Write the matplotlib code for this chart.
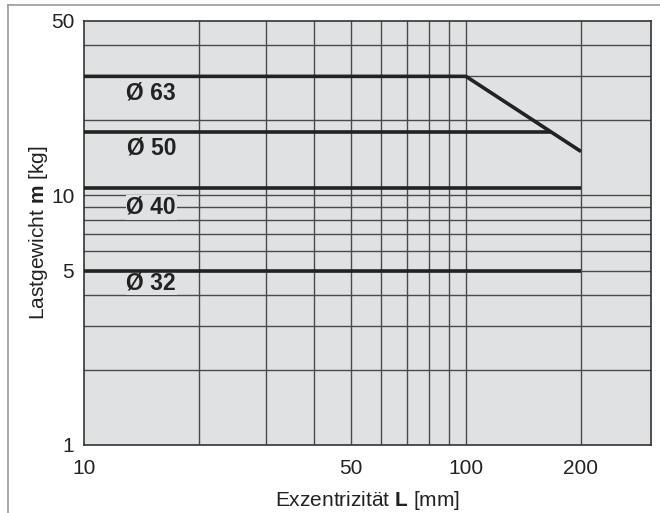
import matplotlib
matplotlib.use("Agg")
import matplotlib.pyplot as plt
from matplotlib.lines import Line2D

plt.rcParams['font.family'] = ['Liberation Sans', 'DejaVu Sans']
plt.rcParams['mathtext.fontset'] = 'custom'
plt.rcParams['mathtext.rm'] = 'Liberation Sans'
plt.rcParams['mathtext.bf'] = 'Liberation Sans:bold'

# load limits per bore size (eccentricity L [mm] -> load m [kg])
sizes = ["Ø 63", "Ø 50", "Ø 40", "Ø 32"]
curve_L = [[10, 100, 200], [10, 166.7], [10, 200], [10, 200]]
curve_m = [[30, 30, 15], [18, 18], [10.7, 10.7], [5, 5]]
label_L = [15, 15, 15, 15]
label_m = [25.8, 15.5, 8.95, 4.45]

x_grid = [20, 30, 40, 50, 60, 70, 80, 90, 100, 200]
y_grid = [2, 3, 4, 5, 6, 7, 8, 9, 10, 20, 30, 40]
x_ticks = [10, 50, 100, 200]
y_ticks = [1, 5, 10, 50]

bg = '#e0e1e3'

fig = plt.figure(figsize=(6.6, 5.13), dpi=100)
ax = fig.add_axes([84 / 660, 1 - 445 / 513, (651 - 84) / 660, (445 - 21) / 513])
ax.set_facecolor(bg)
ax.set_xscale('log')
ax.set_yscale('log')
ax.set_xlim(10, 305)
ax.set_ylim(1, 50)

for xv in x_grid:
    ax.axvline(xv, color='#4a4a4a', lw=1, zorder=1)
for yv in y_grid:
    ax.axhline(yv, color='#4a4a4a', lw=1, zorder=1)

for name, lx, ly in zip(sizes, label_L, label_m):
    ax.text(lx, ly, name, ha='center', va='center', fontsize=16.5, fontweight='bold',
            color='#222222', zorder=2,
            bbox=dict(facecolor=bg, edgecolor='none', pad=0.5))

for L, m in zip(curve_L, curve_m):
    ax.plot(L, m, color='#222222', lw=2.6, zorder=3, solid_capstyle='butt')

ax.set_xticks(x_ticks)
ax.set_xticklabels([str(v) for v in x_ticks])
ax.set_yticks(y_ticks)
ax.set_yticklabels([str(v) for v in y_ticks])
ax.minorticks_off()
ax.tick_params(length=0, labelsize=15, colors='#222222')
ax.tick_params(axis='x', pad=10)
ax.tick_params(axis='y', pad=7)

for s in ax.spines.values():
    s.set_color('#333333')
    s.set_linewidth(1.2)

ax.set_xlabel('Exzentrizität $\\mathbf{L}$ [mm]', fontsize=15, color='#222222', labelpad=8)
ax.set_ylabel('Lastgewicht $\\mathbf{m}$ [kg]', fontsize=15, color='#222222', labelpad=1)

# outer frame of the page
fig.add_artist(Line2D([8 / 660, 8 / 660], [0, 1 - 5 / 513], color='#999999', lw=1.2))
fig.add_artist(Line2D([8 / 660, 1], [1 - 5 / 513, 1 - 5 / 513], color='#999999', lw=1.2))

fig.savefig('out.png', dpi=100, facecolor='white')
